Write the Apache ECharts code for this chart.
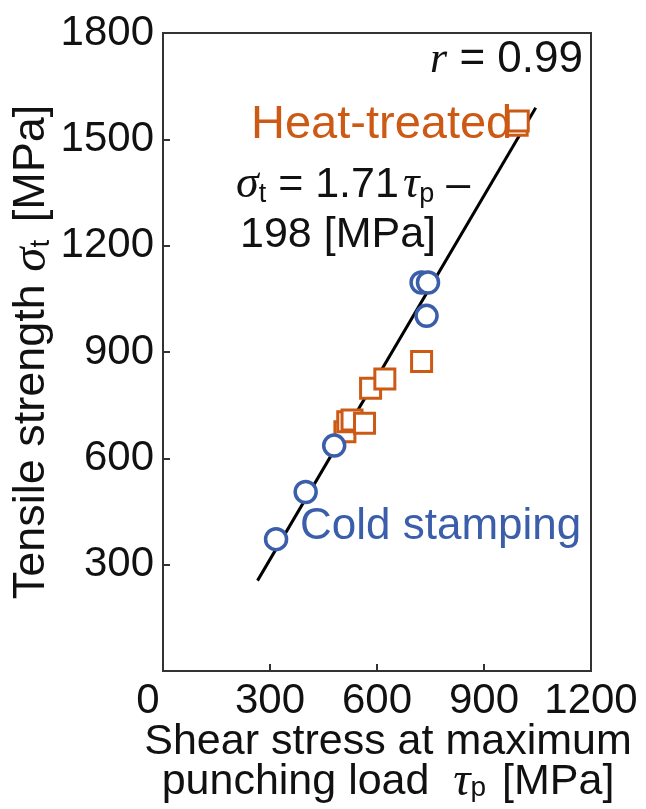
<!DOCTYPE html>
<html>
<head>
<meta charset="utf-8">
<script src="https://cdn.jsdelivr.net/npm/echarts@6/dist/echarts.min.js"></script>
<style>html,body{margin:0;padding:0;background:#fff;}#c{width:646px;height:809px;}</style>
</head>
<body>
<div id="c"></div>
<script>
// ---- data ----
var xTicks = [0, 300, 600, 900, 1200];
var yTicks = [0, 300, 600, 900, 1200, 1500, 1800];
var coldStamping = [[317, 372], [400, 505], [480, 636], [725, 1096], [743, 1096], [739, 1002]];
var heatTreated = [[510, 675], [518, 703], [530, 708], [565, 699], [582, 798], [622, 824], [725, 873], [993, 1540], [996, 1552]];
var fitLine = [[265, 255], [1045, 1589]];

var SANS = '"Liberation Sans", Arial, sans-serif';
var SERIF = '"Liberation Serif", "Times New Roman", serif';
var BLUE = '#3a5ea9';
var ORANGE = '#cc5a14';
var FS = 42;

var chart = echarts.init(document.getElementById('c'));
chart.setOption({
  backgroundColor: '#fff',
  animation: false,
  grid: { left: 163, right: 55, top: 33, bottom: 138, containLabel: false, outerBoundsMode: 'none',
          show: true, borderColor: '#333', borderWidth: 2, backgroundColor: 'transparent' },
  xAxis: {
    type: 'value', min: xTicks[0], max: xTicks[xTicks.length - 1], interval: 300,
    splitLine: { show: false },
    axisLine: { show: true, lineStyle: { color: '#333', width: 2 } },
    axisTick: { show: true, inside: true, length: 7, lineStyle: { color: '#333', width: 2 } },
    axisLabel: {
      margin: 9, color: '#111', fontSize: FS, fontFamily: SANS,
      formatter: function (v) { return v === 0 ? '{z|0}' : String(v); },
      rich: { z: { fontSize: FS, fontFamily: SANS, color: '#111', padding: [0, 30, 0, 0] } }
    },
    name: '{n|Shear stress at maximum}\n{n|punching load  }{it|τ}{sub|p}{n| [MPa]}',
    nameLocation: 'middle', nameGap: 51, nameMoveOverlap: false,
    nameTextStyle: {
      color: '#111', fontSize: 43, fontFamily: SANS, lineHeight: 40, padding: [0, 0, 0, 22],
      rich: {
        n: { fontSize: 43, fontFamily: SANS, color: '#111', lineHeight: 40 },
        it: { fontSize: 48, fontFamily: SERIF, fontStyle: 'italic', color: '#111', lineHeight: 40 },
        sub: { fontSize: 28, fontFamily: SANS, color: '#111', lineHeight: 40, verticalAlign: 'bottom', padding: [0, 4, 0, 0] }
      }
    }
  },
  yAxis: {
    type: 'value', min: yTicks[0], max: yTicks[yTicks.length - 1], interval: 300,
    splitLine: { show: false },
    axisLine: { show: true, lineStyle: { color: '#333', width: 2 } },
    axisTick: { show: true, inside: true, length: 7, lineStyle: { color: '#333', width: 2 } },
    axisLabel: {
      margin: 9, color: '#111', fontSize: FS, fontFamily: SANS,
      formatter: function (v) { return v === 0 ? '' : String(v); }
    },
    name: '{n|Tensile strength }{it|σ}{sub|t}{n| [MPa]}',
    nameLocation: 'middle', nameGap: 108, nameRotate: 90, nameMoveOverlap: false,
    nameTextStyle: {
      color: '#111', fontSize: 45, fontFamily: SANS,
      rich: {
        n: { fontSize: 45, fontFamily: SANS, color: '#111', lineHeight: 46 },
        it: { fontSize: 49, fontFamily: SERIF, fontStyle: 'italic', color: '#111', lineHeight: 46 },
        sub: { fontSize: 28, fontFamily: SANS, color: '#111', lineHeight: 46, verticalAlign: 'bottom', padding: [0, 5, 0, 0] }
      }
    }
  },
  series: [
    {
      type: 'line', data: fitLine, symbol: 'none', z: 1,
      lineStyle: { color: '#000', width: 3 }
    },
    {
      type: 'scatter', data: heatTreated, symbol: 'rect', symbolSize: 20, z: 3,
      itemStyle: { color: '#fff', borderColor: ORANGE, borderWidth: 3, opacity: 1 }
    },
    {
      type: 'scatter', data: coldStamping, symbol: 'circle', symbolSize: 21, z: 4,
      itemStyle: { color: '#fff', borderColor: BLUE, borderWidth: 3.5, opacity: 1 }
    }
  ],
  graphic: [
    { type: 'text', z: 10, style: { x: 583, y: 60, align: 'right', verticalAlign: 'middle',
        text: '{it|r}{n| = 0.99}',
        rich: { it: { fontSize: 44, fontFamily: SERIF, fontStyle: 'italic', fill: '#111' },
                n: { fontSize: 44, fontFamily: SANS, fill: '#111' } } } },
    { type: 'text', z: 10, style: { x: 251, y: 125, align: 'left', verticalAlign: 'middle',
        text: 'Heat-treated', fontSize: 47, fontFamily: SANS, fill: ORANGE } },
    { type: 'text', z: 10, style: { x: 236, y: 185, align: 'left', verticalAlign: 'middle',
        text: '{it|σ}{sub|t}{n| = 1.71}{it2|τ}{sub|p}{n| –}',
        rich: { it: { fontSize: 46, fontFamily: SERIF, fontStyle: 'italic', fill: '#111', lineHeight: 46 },
                it2: { fontSize: 46, fontFamily: SERIF, fontStyle: 'italic', fill: '#111', lineHeight: 46, padding: [0, 0, 0, 4] },
                n: { fontSize: 43, fontFamily: SANS, fill: '#111', lineHeight: 46 },
                sub: { fontSize: 27, fontFamily: SANS, fill: '#111', lineHeight: 46, verticalAlign: 'bottom' } } } },
    { type: 'text', z: 10, style: { x: 240, y: 235, align: 'left', verticalAlign: 'middle',
        text: '198 [MPa]', fontSize: 43, fontFamily: SANS, fill: '#111' } },
    { type: 'text', z: 10, style: { x: 300, y: 527, align: 'left', verticalAlign: 'middle',
        text: 'Cold stamping', fontSize: 44, fontFamily: SANS, fill: BLUE } }
  ]
});
</script>
</body>
</html>
